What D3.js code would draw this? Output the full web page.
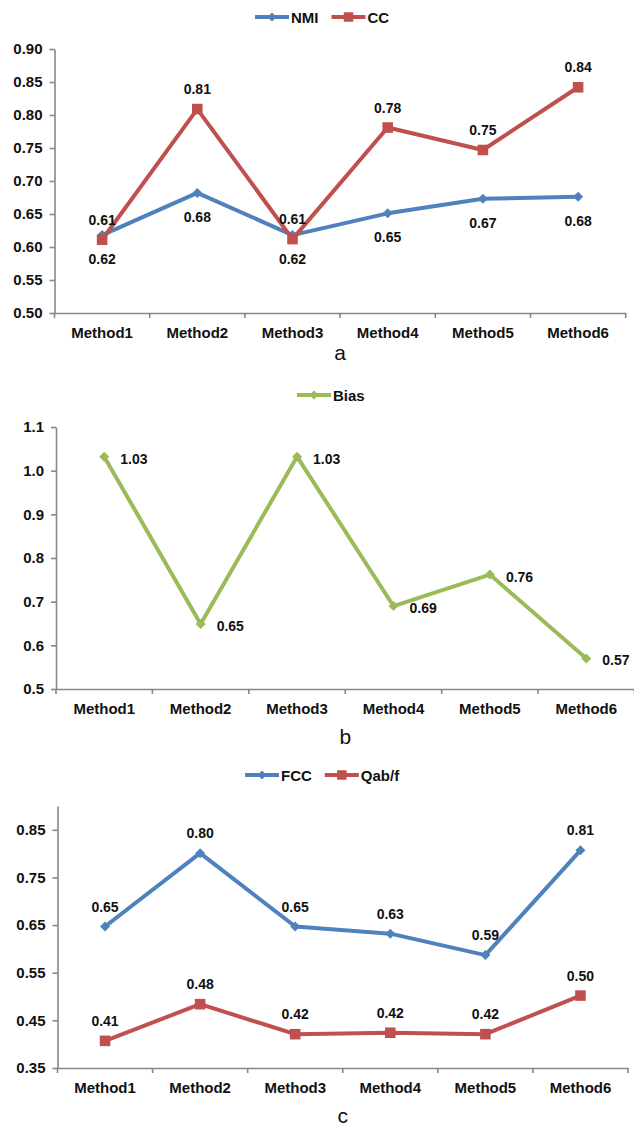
<!DOCTYPE html>
<html><head><meta charset="utf-8">
<script src="https://cdn.jsdelivr.net/npm/d3@7"></script>
<style>
body{margin:0;background:#fff}
text{font-family:"Liberation Sans",Arial,sans-serif;fill:#111}
</style>
</head><body>
<svg id="chart" width="634" height="1125"></svg>
<script>
const categories = ["Method1","Method2","Method3","Method4","Method5","Method6"];
const nmiValues  = [0.618,0.682,0.618,0.651,0.673,0.676];
const ccValues   = [0.611,0.809,0.612,0.781,0.747,0.842];
const biasValues = [1.032,0.649,1.032,0.690,0.762,0.570];
const fccValues  = [0.647,0.801,0.647,0.632,0.587,0.807];
const qabfValues = [0.407,0.484,0.421,0.424,0.421,0.502];
const ticksA = [0.50,0.55,0.60,0.65,0.70,0.75,0.80,0.85,0.90];
const ticksB = [0.5,0.6,0.7,0.8,0.9,1.0,1.1];
const ticksC = [0.35,0.45,0.55,0.65,0.75,0.85];
const panelLabels = ["a","b","c"];

const BLUE="#4F81BD", RED="#C0504D", GREEN="#9BBB59", AXIS="#878787";

const panels = [
  {label:panelLabels[0], x0:54.5, x1:625.7, yTop:49, yBot:313, domain:[0.5,0.9], ticks:ticksA, fmt:".2f",
   legendX:255, legendY:17, titleY:354,
   series:[{name:"NMI", values:nmiValues, color:BLUE, marker:"diamond", pos:"below"},
           {name:"CC", values:ccValues, color:RED, marker:"square", pos:"above"}]},
  {label:panelLabels[1], x0:56, x1:634.5, yTop:427, yBot:689, domain:[0.5,1.1], ticks:ticksB, fmt:".1f",
   legendX:297, legendY:395, titleY:738,
   series:[{name:"Bias", values:biasValues, color:GREEN, marker:"diamond", pos:"right"}]},
  {label:panelLabels[2], x0:57.5, x1:628, yTop:806, yBot:1068, domain:[0.35,0.90], ticks:ticksC, fmt:".2f",
   legendX:245, legendY:775, titleY:1117,
   series:[{name:"FCC", values:fccValues, color:BLUE, marker:"diamond", pos:"above"},
           {name:"Qab/f", values:qabfValues, color:RED, marker:"square", pos:"above"}]}
];

const svg = d3.select("#chart");
const fmt2 = d3.format(".2f");

function marker(g, type, color, cx, cy, small){
  if(type==="diamond"){
    g.append("path")
      .attr("d", d3.symbol().type(d3.symbolSquare).size(small?42:50)())
      .attr("transform",`translate(${cx},${cy}) rotate(45)`)
      .attr("fill",color);
  } else {
    g.append("path")
      .attr("d", d3.symbol().type(d3.symbolSquare).size(small?90:112)())
      .attr("transform",`translate(${cx},${cy})`)
      .attr("fill",color);
  }
}

panels.forEach(p=>{
  const g = svg.append("g");
  const x = d3.scaleBand().domain(categories).range([p.x0,p.x1]).padding(0);
  const bw = x.bandwidth();
  const cx = c => x(c)+bw/2;
  const y = d3.scaleLinear().domain(p.domain).range([p.yBot,p.yTop]);

  // Y axis
  const ya = g.append("g").attr("transform",`translate(${p.x0},0)`)
    .call(d3.axisLeft(y).tickValues(p.ticks).tickFormat(d3.format(p.fmt)).tickSize(5).tickPadding(7).tickSizeOuter(0));
  ya.select(".domain").attr("stroke",AXIS).attr("stroke-width",1.6);
  ya.selectAll(".tick line").attr("stroke",AXIS).attr("stroke-width",1.6);
  ya.selectAll(".tick text").attr("font-size",15).attr("font-weight","bold").attr("fill","#111")
    .attr("font-family",'"Liberation Sans",Arial,sans-serif');

  // X axis (labels at band centres, ticks at band boundaries)
  const xa = g.append("g").attr("transform",`translate(0,${p.yBot})`)
    .call(d3.axisBottom(x).tickSize(0).tickPadding(14).tickSizeOuter(0));
  xa.select(".domain").attr("stroke",AXIS).attr("stroke-width",1.6);
  xa.selectAll(".tick text").attr("font-size",15).attr("font-weight","bold").attr("fill","#111")
    .attr("font-family",'"Liberation Sans",Arial,sans-serif');
  const bounds = categories.map(c=>x(c)).concat([p.x1]);
  xa.selectAll("line.bnd").data(bounds).enter().append("line").attr("class","bnd")
    .attr("x1",d=>d).attr("x2",d=>d).attr("y1",0).attr("y2",5)
    .attr("stroke",AXIS).attr("stroke-width",1.6);

  // Series
  p.series.forEach(s=>{
    const line = d3.line().x((d,i)=>cx(categories[i])).y(d=>y(d));
    g.append("path").datum(s.values).attr("d",line)
      .attr("fill","none").attr("stroke",s.color).attr("stroke-width",4).attr("stroke-linejoin","round");
    s.values.forEach((v,i)=>marker(g,s.marker,s.color,cx(categories[i]),y(v),false));
  });
  // Data labels
  p.series.forEach(s=>{
    s.values.forEach((v,i)=>{
      const px = cx(categories[i]), py = y(v);
      const t = g.append("text").text(fmt2(v)).attr("font-size",14).attr("font-weight","bold");
      if(s.pos==="above"){ t.attr("x",px).attr("y",py-15).attr("text-anchor","middle"); }
      else if(s.pos==="below"){ t.attr("x",px).attr("y",py+29).attr("text-anchor","middle"); }
      else { t.attr("x",px+16).attr("y",py+7).attr("text-anchor","start"); }
    });
  });

  // Legend
  let lx = p.legendX;
  p.series.forEach(s=>{
    const lg = g.append("g");
    lg.append("line").attr("x1",lx).attr("x2",lx+34).attr("y1",p.legendY).attr("y2",p.legendY)
      .attr("stroke",s.color).attr("stroke-width",4);
    marker(lg,s.marker,s.color,lx+17,p.legendY,true);
    const t = lg.append("text").text(s.name).attr("x",lx+36).attr("y",p.legendY+5.5)
      .attr("font-size",15).attr("font-weight","bold");
    lx = lx + 36 + t.node().getComputedTextLength() + 13;
  });

  // Panel title
  g.append("text").text(p.label).attr("x",(p.x0+p.x1)/2).attr("y",p.titleY+5.5)
    .attr("text-anchor","middle").attr("font-size",21);
});
</script>
</body></html>
